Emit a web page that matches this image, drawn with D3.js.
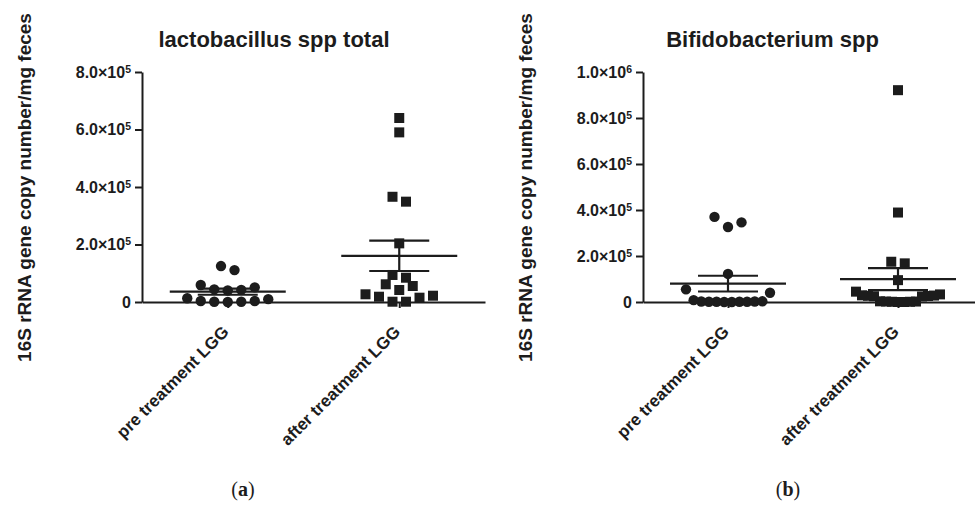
<!DOCTYPE html>
<html>
<head>
<meta charset="utf-8">
<script src="https://cdn.jsdelivr.net/npm/d3@7"></script>
<style>
  body { margin: 0; background: #fff; }
  svg { display: block; }
  text { fill: #1c1c1c; }
</style>
</head>
<body>
<div id="chart"></div>
<script>
// Values (copies / mg feces)
const categories = ["pre treatment LGG", "after treatment LGG"];
const yLabel = "16S rRNA gene copy number/mg feces";

const lactoTitle = "lactobacillus spp total";
const lactoTicks = [0, 2e5, 4e5, 6e5, 8e5];
const lactoPre = [125000, 111000, 59000, 51000, 44000, 42000, 40000, 13000, 10000, 3500, 3500, 1000, 1000, 0];
const lactoAfter = [640000, 590000, 366000, 349000, 204000, 94000, 84500, 61600, 55600, 41700,
  26800, 21900, 18400, 15000, 1000, 1000];

const bifidoTitle = "Bifidobacterium spp";
const bifidoTicks = [0, 2e5, 4e5, 6e5, 8e5, 1e6];
const bifidoPre = [370000, 346000, 326000, 122000, 55000, 40000, 8000, 3000, 2000, 2000,
  1000, 1000, 1000, 1000, 0, 0];
const bifidoAfter = [921000, 389000, 175000, 168000, 95000, 45000, 33000, 29000, 28000, 27000,
  26000, 25000, 24000, 3000, 2000, 2000, 1000, 1000, 0, 0];

const W = 975, H = 506;
const ink = "#1c1c1c";
const font = "'Liberation Sans', Arial, sans-serif";

const svg = d3.select("#chart").append("svg")
    .attr("width", W)
    .attr("height", H)
    .attr("viewBox", [0, 0, W, H]);

// GraphPad style scatter: points in the same height band sit side by side,
// centred on the column, squeezed together when the row gets too wide
function swarm(values, cx, y, rowH, step, maxW) {
    const pts = values.map(v => ({ v, y: y(v) })).sort((a, b) => a.v - b.v);
    const rows = [];
    pts.forEach(p => {
        const row = rows[rows.length - 1];
        if (row && row[0].y - p.y < rowH) row.push(p);
        else rows.push([p]);
    });
    rows.forEach(row => {
        const k = row.length;
        const s = k > 1 ? Math.min(step, maxW / (k - 1)) : 0;
        row.forEach((p, i) => {
            let slot;
            if (k % 2) slot = i === 0 ? 0 : (i % 2 ? (i + 1) / 2 : -i / 2);
            else slot = i % 2 ? -((i - 1) / 2 + 0.5) : i / 2 + 0.5;
            p.x = cx + slot * s;
        });
    });
    return pts;
}

function supLabel(sel, d) {
    sel.text(null);
    if (d === 0) { sel.append("tspan").text("0"); return; }
    const exp = Math.floor(Math.log10(d));
    const man = d / Math.pow(10, exp);
    sel.append("tspan").text(man.toFixed(1) + "\u00d710");
    sel.append("tspan").attr("dy", "-0.45em").attr("font-size", "10.5px").text(exp);
}

function drawPanel(cfg) {
    const g = svg.append("g");

    const y = d3.scaleLinear().domain([0, cfg.yMax]).range([302, 72]);
    const x = d3.scalePoint().domain(categories).range([cfg.left, cfg.right]).padding(0.5);

    // y axis
    const yAxis = g.append("g")
        .attr("transform", `translate(${cfg.left},0)`)
        .call(d3.axisLeft(y).tickValues(cfg.ticks).tickSize(7).tickSizeOuter(0).tickPadding(4));
    yAxis.select(".domain").attr("stroke", ink).attr("stroke-width", 2);
    yAxis.selectAll(".tick line").attr("stroke", ink).attr("stroke-width", 2);
    yAxis.selectAll(".tick text")
        .attr("font-family", font)
        .attr("font-weight", "bold")
        .attr("font-size", "16px")
        .attr("fill", ink)
        .each(function(d) { supLabel(d3.select(this), d); });

    // x axis
    const xAxis = g.append("g")
        .attr("transform", `translate(0,${y(0)})`)
        .call(d3.axisBottom(x).tickSize(6).tickSizeOuter(0).tickFormat(""));
    xAxis.select(".domain").attr("stroke", ink).attr("stroke-width", 2);
    xAxis.selectAll(".tick line").attr("stroke", ink).attr("stroke-width", 2);

    g.selectAll(".cat")
        .data(categories)
        .join("text")
        .attr("class", "cat")
        .attr("transform", d => `translate(${x(d) + 2},333) rotate(-45)`)
        .attr("text-anchor", "end")
        .attr("font-family", font)
        .attr("font-weight", "bold")
        .attr("font-size", "17px")
        .text(d => d);

    // points
    cfg.groups.forEach((vals, i) => {
        const cx = x(categories[i]);
        const pts = swarm(vals, cx, y, cfg.rowH, 13.5, 84);
        if (i === 0) {
            g.append("g").selectAll("circle")
                .data(pts)
                .join("circle")
                .attr("cx", d => d.x)
                .attr("cy", d => d.y)
                .attr("r", 5.2)
                .attr("fill", ink);
        } else {
            g.append("g").selectAll("rect")
                .data(pts)
                .join("rect")
                .attr("x", d => d.x - 5)
                .attr("y", d => d.y - 5)
                .attr("width", 10)
                .attr("height", 10)
                .attr("fill", ink);
        }

        // mean +/- SEM
        const m = d3.mean(vals);
        const sem = d3.deviation(vals) / Math.sqrt(vals.length);
        const lines = [
            [cx - 58, y(m), cx + 58, y(m)],
            [cx - 30, y(m + sem), cx + 30, y(m + sem)],
            [cx - 30, y(m - sem), cx + 30, y(m - sem)],
            [cx, y(m + sem), cx, y(m - sem)]
        ];
        g.append("g").selectAll("line")
            .data(lines)
            .join("line")
            .attr("x1", d => d[0]).attr("y1", d => d[1])
            .attr("x2", d => d[2]).attr("y2", d => d[3])
            .attr("stroke", ink)
            .attr("stroke-width", 2.2);
    });

    // title
    g.append("text")
        .attr("x", cfg.titleX)
        .attr("y", 46.5)
        .attr("text-anchor", "middle")
        .attr("font-family", font)
        .attr("font-weight", "bold")
        .attr("font-size", "22px")
        .text(cfg.title);

    // y label
    g.append("text")
        .attr("transform", `translate(${cfg.left - 111},187.5) rotate(-90)`)
        .attr("text-anchor", "middle")
        .attr("font-family", font)
        .attr("font-weight", "bold")
        .attr("font-size", "19px")
        .text(yLabel);

    // panel letter
    const lab = g.append("text")
        .attr("x", cfg.letterX)
        .attr("y", 496)
        .attr("text-anchor", "middle")
        .attr("font-family", "'Liberation Serif', 'Times New Roman', serif")
        .attr("font-size", "20px");
    lab.append("tspan").text("(");
    lab.append("tspan").attr("font-weight", "bold").text(cfg.letter);
    lab.append("tspan").text(")");
}

drawPanel({
    left: 142, right: 485, yMax: 8e5, ticks: lactoTicks, rowH: 11,
    groups: [lactoPre, lactoAfter], title: lactoTitle, titleX: 274,
    letter: "a", letterX: 243
});

drawPanel({
    left: 643, right: 983, yMax: 1e6, ticks: bifidoTicks, rowH: 14,
    groups: [bifidoPre, bifidoAfter], title: bifidoTitle, titleX: 772.5,
    letter: "b", letterX: 788
});
</script>
</body>
</html>
